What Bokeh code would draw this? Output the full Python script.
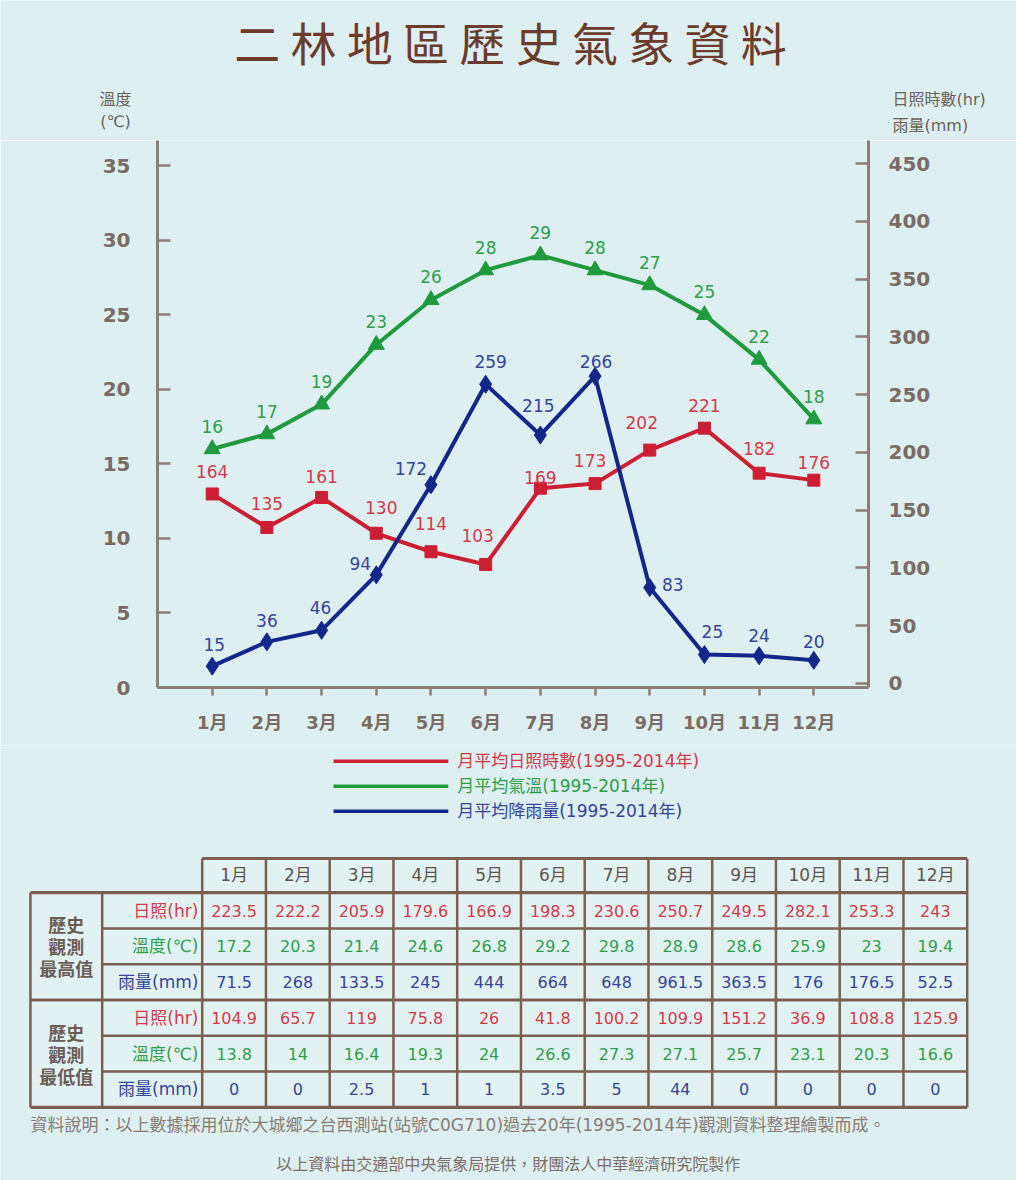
from bokeh.plotting import figure
from bokeh.models import (Range1d, LinearAxis, FixedTicker, ColumnDataSource, Label)
from bokeh.embed import file_html
from bokeh.resources import INLINE
from bokeh.core.properties import value

# ---------------- data ----------------
months = ["1月", "2月", "3月", "4月", "5月", "6月", "7月", "8月", "9月", "10月", "11月", "12月"]
month_num = [1, 2, 3, 4, 5, 6, 7, 8, 9, 10, 11, 12]
temp_avg = [16, 17, 19, 23, 26, 28, 29, 28, 27, 25, 22, 18]
sun_avg = [164, 135, 161, 130, 114, 103, 169, 173, 202, 221, 182, 176]
rain_avg = [15, 36, 46, 94, 172, 259, 215, 266, 83, 25, 24, 20]
left_ticks = [0, 5, 10, 15, 20, 25, 30, 35]
right_ticks = [0, 50, 100, 150, 200, 250, 300, 350, 400, 450]
legend_labels = ["月平均日照時數(1995-2014年)", "月平均氣溫(1995-2014年)", "月平均降雨量(1995-2014年)"]

max_sun = [223.5, 222.2, 205.9, 179.6, 166.9, 198.3, 230.6, 250.7, 249.5, 282.1, 253.3, 243]
max_temp = [17.2, 20.3, 21.4, 24.6, 26.8, 29.2, 29.8, 28.9, 28.6, 25.9, 23, 19.4]
max_rain = [71.5, 268, 133.5, 245, 444, 664, 648, 961.5, 363.5, 176, 176.5, 52.5]
min_sun = [104.9, 65.7, 119, 75.8, 26, 41.8, 100.2, 109.9, 151.2, 36.9, 108.8, 125.9]
min_temp = [13.8, 14, 16.4, 19.3, 24, 26.6, 27.3, 27.1, 25.7, 23.1, 20.3, 16.6]
min_rain = [0, 0, 2.5, 1, 1, 3.5, 5, 44, 0, 0, 0, 0]
row_labels = ["日照(hr)", "溫度(℃)", "雨量(mm)"]
group_labels = [["歷史", "觀測", "最高值"], ["歷史", "觀測", "最低值"]]

title_text = "二林地區歷史氣象資料"
left_caption = ["溫度", "(℃)"]
right_caption = ["日照時數(hr)", "雨量(mm)"]
note_text = "資料說明：以上數據採用位於大城鄉之台西測站(站號C0G710)過去20年(1995-2014年)觀測資料整理繪製而成。"
credit_text = "以上資料由交通部中央氣象局提供，財團法人中華經濟研究院製作"

# ---------------- style ----------------
BG = "#ddeff0"
AXIS = "#8c7d75"
TICKTXT = "#7a6c64"
RED, GREEN, BLUE = "#cc1f34", "#1f9a3e", "#13268a"
RED_T, GREEN_T, BLUE_T = "#d23a4a", "#2f9d4c", "#34449a"
TITLE_C = "#6b3b2c"
CAP_C = "#6e6058"
LAT = "DejaVu Sans"
MIX = "DejaVu Sans, Noto Sans CJK TC"
CJK = "Noto Sans CJK TC"

# value-label offsets (pixels)
temp_dx = [0] * 12
temp_dy = [-23] * 12
sun_dx = [0, 0, 0, 5, 0, -8, 0, -5, -8, 0, 0, 0]
sun_dy = [-22, -24, -21, -26, -28, -29, -11, -23, -28, -23, -25, -18]
rain_dx = [2, 0, -1, -16, -20, 5, -2, 1, 23, 8, 0, 0]
rain_dy = [-22, -21, -23, -11, -16, -23, -30, -15, -3, -23, -20, -19]


def blank(fig):
    fig.background_fill_color = BG
    fig.border_fill_color = BG
    fig.outline_line_color = None
    fig.grid.visible = False
    return fig


# ---------------- header (title + axis captions) ----------------
h = blank(figure(width=1016, height=140, x_range=Range1d(0, 1016), y_range=Range1d(140, 0),
                 output_backend="svg", toolbar_location=None,
                 x_axis_location=None, y_axis_location=None, min_border=0))
h.add_layout(Label(x=510, y=40, text=" ".join(title_text), text_font=CJK,
                   text_font_size="46px", text_color=TITLE_C,
                   text_align="center", text_baseline="middle"))
for txt, yy in zip(left_caption, (99, 121)):
    h.add_layout(Label(x=115, y=yy, text=txt, text_font=MIX, text_font_size="16px",
                       text_color=CAP_C, text_align="center", text_baseline="middle"))
for txt, yy in zip(right_caption, (99, 125)):
    h.add_layout(Label(x=892, y=yy, text=txt, text_font=MIX, text_font_size="16px",
                       text_color=CAP_C, text_align="left", text_baseline="middle"))

# ---------------- chart ----------------
p = blank(figure(width=1016, height=605, x_range=Range1d(0, 13), y_range=Range1d(0, 36.7),
                 output_backend="svg", toolbar_location=None,
                 min_border_left=157, min_border_right=148, min_border_top=0,
                 min_border_bottom=58))
p.extra_y_ranges = {"r": Range1d(-3.5, 470)}


def style_axis(ax, tin, tout, standoff, size):
    ax.axis_line_color = AXIS
    ax.axis_line_width = 3
    ax.major_tick_line_color = AXIS
    ax.major_tick_line_width = 2.5
    ax.major_tick_in = tin
    ax.major_tick_out = tout
    ax.minor_tick_line_color = None
    ax.major_label_standoff = standoff
    ax.major_label_text_color = TICKTXT
    ax.major_label_text_font = MIX
    ax.major_label_text_font_style = "bold"
    ax.major_label_text_font_size = size


ly = p.yaxis[0]
ly.ticker = FixedTicker(ticks=left_ticks)
style_axis(ly, 13, 0, 27, "20px")

ry = LinearAxis(y_range_name="r", ticker=FixedTicker(ticks=right_ticks))
style_axis(ry, 13, 0, 20, "20px")
p.add_layout(ry, "right")

bx = p.xaxis[0]
bx.ticker = FixedTicker(ticks=month_num)
bx.major_label_overrides = {m: s for m, s in zip(month_num, months)}
style_axis(bx, 0, 8, 16, "18px")

src_t = ColumnDataSource(dict(x=month_num, y=temp_avg, t=[str(v) for v in temp_avg], dx=temp_dx, dy=temp_dy))
src_s = ColumnDataSource(dict(x=month_num, y=sun_avg, t=[str(v) for v in sun_avg], dx=sun_dx, dy=sun_dy))
src_r = ColumnDataSource(dict(x=month_num, y=rain_avg, t=[str(v) for v in rain_avg], dx=rain_dx, dy=rain_dy))

p.line("x", "y", source=src_s, y_range_name="r", line_color=RED, line_width=4)
p.scatter("x", "y", source=src_s, y_range_name="r", marker="square", size=12, color=RED)
p.line("x", "y", source=src_t, line_color=GREEN, line_width=4)
p.scatter("x", "y", source=src_t, marker="triangle", size=16, color=GREEN)
p.line("x", "y", source=src_r, y_range_name="r", line_color=BLUE, line_width=4)
p.scatter("x", "y", source=src_r, y_range_name="r", marker="diamond", size=18, color=BLUE)

for src, col, rng in ((src_t, GREEN_T, "default"), (src_s, RED_T, "r"), (src_r, BLUE_T, "r")):
    p.text("x", "y", text="t", source=src, y_range_name=rng, x_offset="dx", y_offset="dy",
           text_color=col, text_font=value(LAT), text_font_size="17px",
           text_align="center", text_baseline="middle")

# ---------------- legend + table + notes ----------------
t = blank(figure(width=1016, height=435, x_range=Range1d(-2.664, 13.273), y_range=Range1d(8.542, -3.609),
                 output_backend="svg", toolbar_location=None,
                 x_axis_location=None, y_axis_location=None, min_border=0))

# legend (line sample + coloured caption)
leg_y = [-3.17, -2.47, -1.77]
leg_cols = [RED, GREEN, BLUE]
leg_tcols = [RED_T, GREEN_T, BLUE_T]
t.segment(x0=[2.56] * 3, x1=[4.36] * 3, y0=leg_y, y1=leg_y, line_color=leg_cols, line_width=3.5)
t.text(x=[4.50] * 3, y=leg_y, text=legend_labels, text_color=leg_tcols, text_font=value(MIX),
       text_font_size="17px", text_align="left", text_baseline="middle")

GX0, GX1, HDR_TOP = -2.194, -1.069, -0.45
LINE = "#7b5f52"
CELL = "#e2f2f3"

t.quad(left=[0.5], right=[12.5], top=[HDR_TOP], bottom=[0.5], fill_color=CELL, line_color=None)
t.quad(left=[GX0], right=[12.5], top=[0.5], bottom=[6.5], fill_color=CELL, line_color=None)

vx = [j + 0.5 for j in range(0, 13)]
t.segment(x0=vx, x1=vx, y0=[HDR_TOP] * 13, y1=[6.5] * 13, line_color=LINE, line_width=2.5)
t.segment(x0=[GX1, GX0], x1=[GX1, GX0], y0=[0.5, 0.5], y1=[6.5, 6.5], line_color=LINE, line_width=2.5)
hy = [1.5, 2.5, 4.5, 5.5]
t.segment(x0=[GX1] * 4, x1=[12.5] * 4, y0=hy, y1=hy, line_color=LINE, line_width=2.5)
t.segment(x0=[0.5], x1=[12.5], y0=[HDR_TOP], y1=[HDR_TOP], line_color=LINE, line_width=3)
t.segment(x0=[GX0] * 3, x1=[12.5] * 3, y0=[0.5, 3.5, 6.5], y1=[0.5, 3.5, 6.5], line_color=LINE, line_width=3.2)

t.text(x=month_num, y=[0] * 12, text=months, text_color="#5f524b", text_font=value(MIX),
       text_font_size="17px", text_align="center", text_baseline="middle")

rows = [max_sun, max_temp, max_rain, min_sun, min_temp, min_rain]
row_cols = [RED_T, GREEN_T, BLUE_T] * 2
cx, cy, ct, cc = [], [], [], []
for r, (vals, col) in enumerate(zip(rows, row_cols), start=1):
    for j, v in zip(month_num, vals):
        cx.append(j); cy.append(r); ct.append(f"{v:g}"); cc.append(col)
t.text(x="x", y="y", text="t", text_color="c", source=ColumnDataSource(dict(x=cx, y=cy, t=ct, c=cc)),
       text_font=value(LAT), text_font_size="16px", text_align="center", text_baseline="middle")

t.text(x=[0.44] * 6, y=[1, 2, 3, 4, 5, 6], text=row_labels * 2, text_color=row_cols,
       text_font=value(MIX), text_font_size="17px", text_align="right", text_baseline="middle")

gx, gy, gt = [], [], []
for g, lines in enumerate(group_labels):
    for k, s in enumerate(lines):
        gx.append((GX0 + GX1) / 2); gy.append(2 + 3 * g + (k - 1) * 0.61); gt.append(s)
t.text(x=gx, y=gy, text=gt, text_color="#6a5d55", text_font=value(CJK), text_font_style="bold",
       text_font_size="18px", text_align="center", text_baseline="middle")

t.add_layout(Label(x=GX0, y=7.0, text=note_text, text_font=MIX, text_font_size="17px",
                   text_color="#8a7b73", text_align="left", text_baseline="middle"))
t.add_layout(Label(x=5.3, y=8.05, text=credit_text, text_font=CJK, text_font_size="16px",
                   text_color="#7d6e66", text_align="center", text_baseline="middle"))

open("out.html", "w").write(file_html([h, p, t], INLINE, title="二林地區歷史氣象資料"))
